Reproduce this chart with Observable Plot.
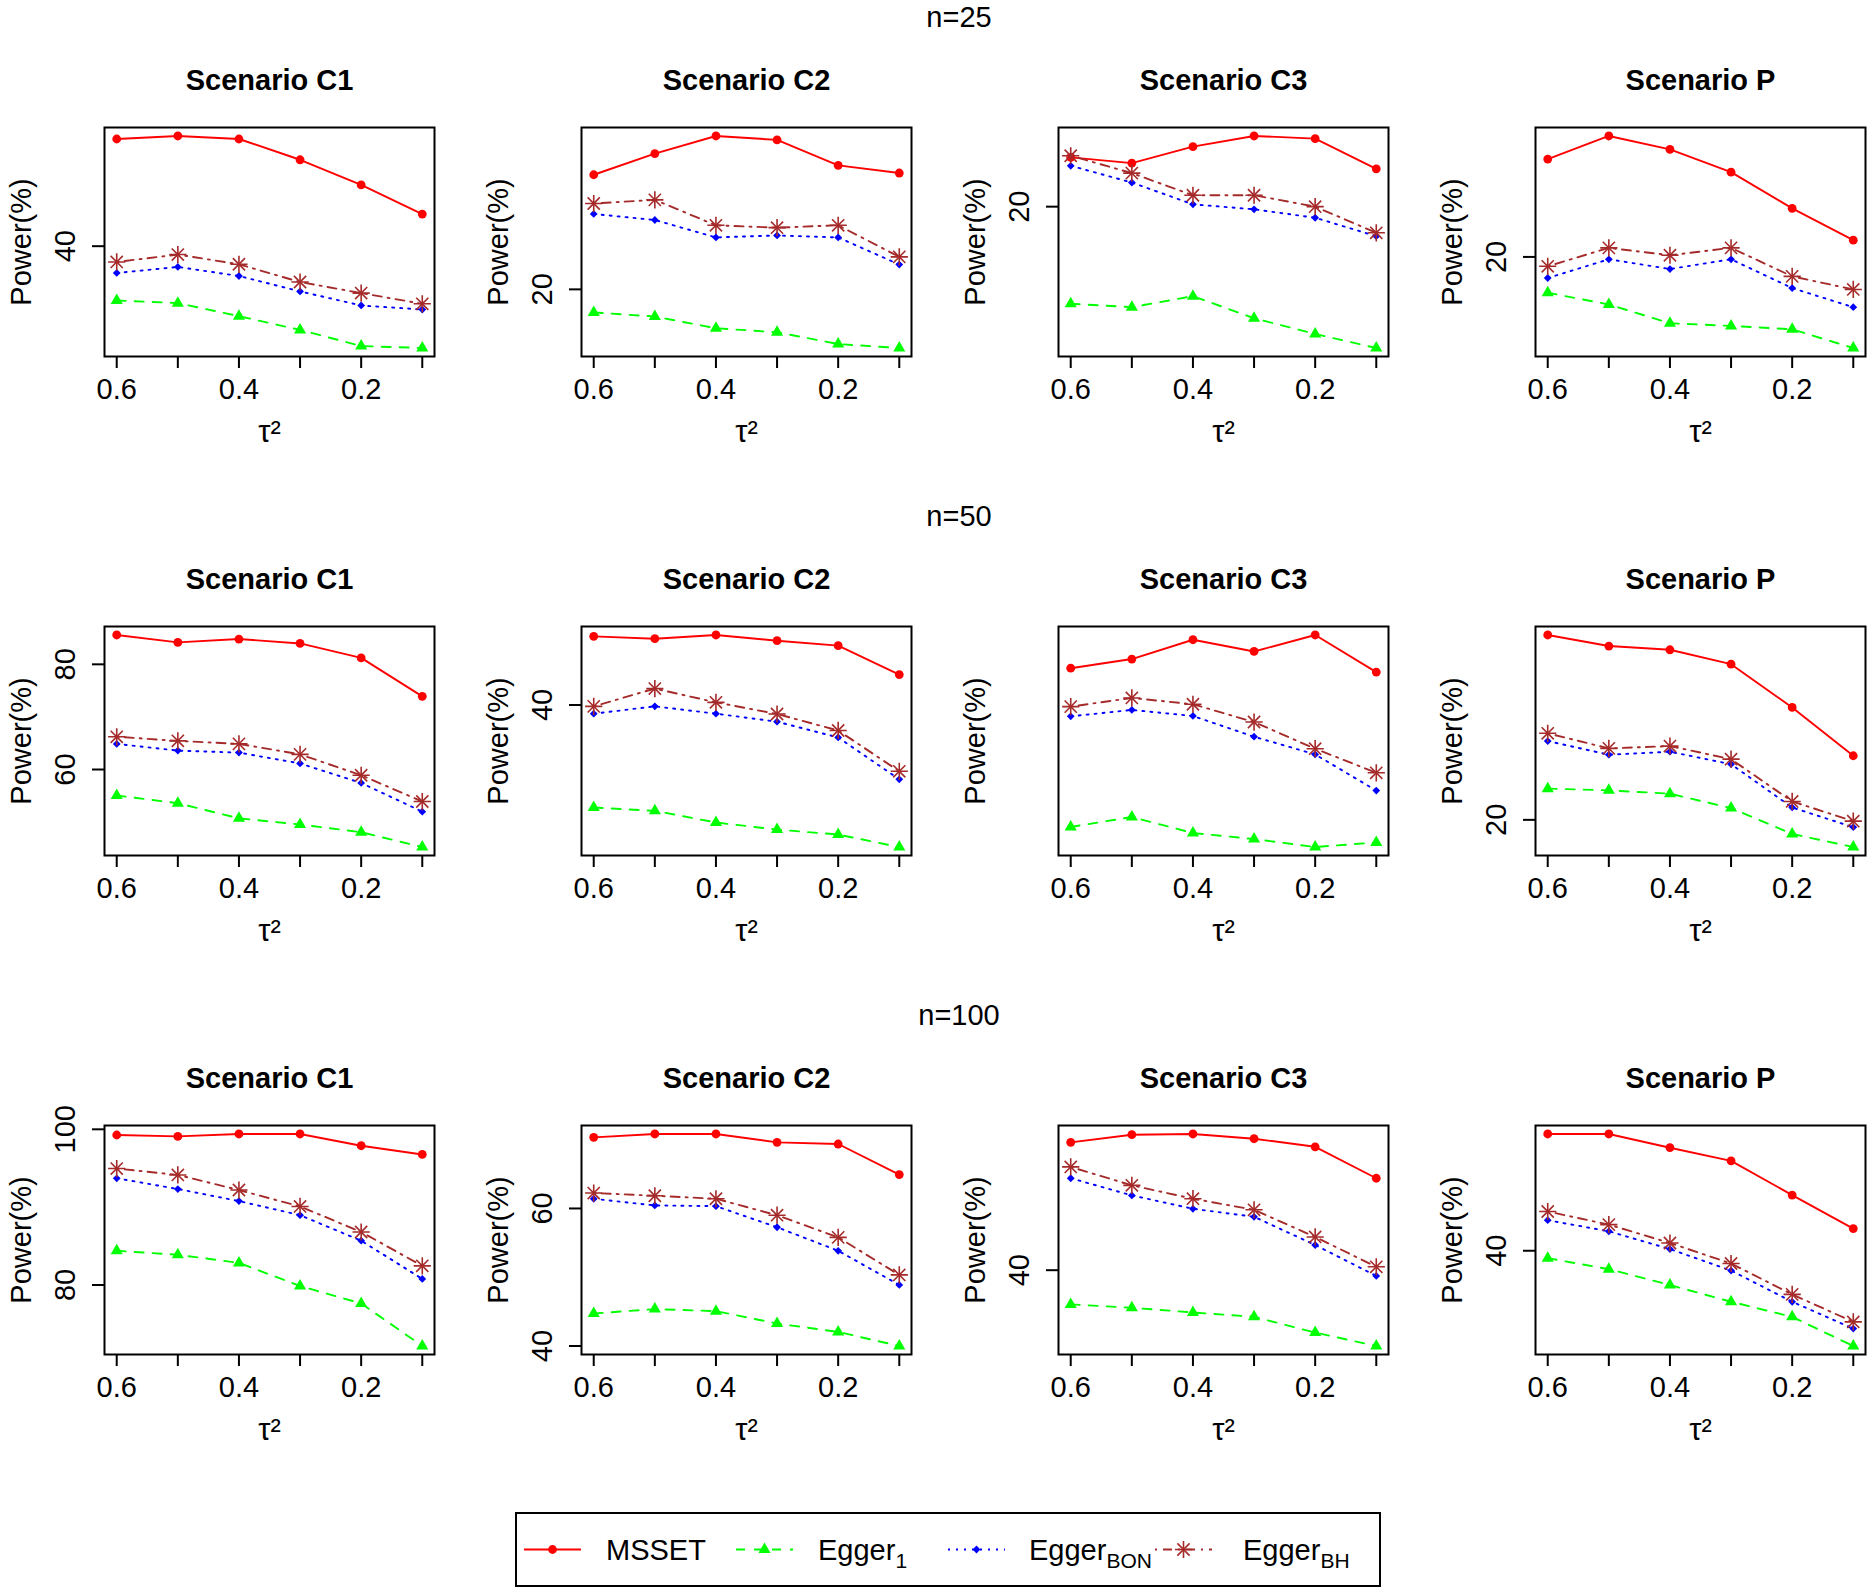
<!DOCTYPE html>
<html><head><meta charset="utf-8">
<script src="https://cdn.jsdelivr.net/npm/d3@7"></script>
<script src="https://cdn.jsdelivr.net/npm/@observablehq/plot@0.6"></script>
<style>
body{margin:0;background:#fff;}
#root{position:relative;width:1872px;height:1592px;background:#fff;font-family:"Liberation Sans",Arial,Helvetica,sans-serif;overflow:hidden;}
.panel{position:absolute;}
.nlab{position:absolute;left:959px;transform:translate(-50%,-50%);font-size:29px;line-height:1;white-space:nowrap;}
</style></head><body><div id="root"></div>
<script>
// ---- data ----
const tau2 = [0.6, 0.5, 0.4, 0.3, 0.2, 0.1];
const xLabelTicks = [0.6, 0.4, 0.2];
const yTickValues = [0, 20, 40, 60, 80, 100];
const sampleSizes = ["n=25", "n=50", "n=100"];
const scenarios = ["Scenario C1", "Scenario C2", "Scenario C3", "Scenario P"];
const methods = ["MSSET", "Egger1", "EggerBON", "EggerBH"];

// rows: scenarios C1, C2, C3, P ; columns: tau2 = 0.6 ... 0.1
const msset_n25 = [
  [56.0, 56.45, 56.0, 52.9, 49.15, 44.8],
  [33.15, 35.58, 37.6, 37.15, 34.23, 33.35],
  [26.13, 25.42, 27.46, 28.79, 28.46, 24.71],
  [33.27, 36.41, 34.59, 31.5, 26.59, 22.27]
];
const egger1_n25 = [
  [31.9, 31.5, 29.55, 27.5, 25.1, 24.8],
  [17.35, 16.88, 15.54, 15.08, 13.73, 13.27],
  [7.92, 7.5, 8.87, 6.12, 4.17, 2.42],
  [15.14, 13.55, 11.0, 10.64, 10.18, 7.64]
];
const bon_n25 = [
  [36.0, 36.9, 35.55, 33.25, 31.15, 30.55],
  [28.65, 27.96, 25.96, 26.19, 25.96, 22.85],
  [25.08, 23.0, 20.29, 19.67, 18.62, 16.33],
  [17.14, 19.68, 18.36, 19.68, 15.77, 13.18]
];
const bh_n25 = [
  [37.65, 38.75, 37.3, 34.65, 33.0, 31.4],
  [29.85, 30.27, 27.35, 27.08, 27.35, 23.73],
  [26.33, 24.17, 21.42, 21.42, 20.0, 16.75],
  [18.73, 21.23, 20.23, 21.23, 17.36, 15.59]
];

const msset_n50 = [
  [85.58, 84.17, 84.81, 83.97, 81.22, 73.91],
  [48.54, 48.25, 48.71, 48.0, 47.38, 43.79],
  [36.10, 36.87, 38.5, 37.51, 38.9, 35.77],
  [38.37, 37.27, 36.9, 35.47, 31.17, 26.37]
];
const egger1_n50 = [
  [55.06, 53.59, 50.71, 49.55, 48.08, 45.26],
  [27.25, 26.83, 25.38, 24.5, 23.88, 22.33],
  [22.71, 23.55, 22.2, 21.69, 21.02, 21.41],
  [23.1, 22.93, 22.6, 21.17, 18.6, 17.3]
];
const bon_n50 = [
  [64.87, 63.59, 63.21, 61.15, 57.44, 51.99],
  [38.92, 39.83, 38.92, 37.92, 35.96, 30.75],
  [32.04, 32.58, 32.07, 30.32, 28.83, 25.78],
  [27.83, 26.47, 26.77, 25.53, 21.23, 19.27]
];
const bh_n50 = [
  [66.22, 65.45, 64.87, 62.88, 58.91, 53.91],
  [39.83, 42.04, 40.33, 38.88, 36.83, 31.75],
  [32.86, 33.59, 33.06, 31.56, 29.31, 27.28],
  [28.6, 27.1, 27.33, 26.03, 21.83, 19.87]
];

const msset_n100 = [
  [99.27, 99.09, 99.4, 99.4, 97.89, 96.77],
  [70.34, 70.83, 70.83, 69.61, 69.37, 64.93],
  [55.88, 56.83, 56.92, 56.33, 55.33, 51.42],
  [56.57, 56.57, 54.62, 52.76, 47.9, 43.14]
];
const egger1_n100 = [
  [84.4, 83.88, 82.84, 79.87, 77.63, 72.16],
  [44.73, 45.37, 45.07, 43.27, 42.05, 40.0],
  [35.75, 35.33, 34.75, 34.21, 32.25, 30.58],
  [38.95, 37.38, 35.14, 32.76, 30.62, 26.48]
];
const bon_n100 = [
  [93.71, 92.33, 90.78, 88.97, 85.69, 80.78],
  [61.41, 60.44, 60.34, 57.27, 53.85, 48.88],
  [51.42, 49.29, 47.63, 46.63, 43.13, 39.29],
  [44.33, 42.76, 40.24, 37.19, 32.76, 28.95]
];
const bh_n100 = [
  [94.96, 94.14, 92.2, 90.09, 86.81, 82.46],
  [62.24, 61.85, 61.41, 59.02, 55.8, 50.34],
  [52.83, 50.54, 48.88, 47.5, 44.13, 40.42],
  [45.57, 43.71, 41.1, 38.19, 33.81, 29.9]
];

const seriesByMethod = {
  MSSET: [msset_n25, msset_n50, msset_n100],
  Egger1: [egger1_n25, egger1_n50, egger1_n100],
  EggerBON: [bon_n25, bon_n50, bon_n100],
  EggerBH: [bh_n25, bh_n50, bh_n100]
};

// ---- styles ----
const FONT = '"Liberation Sans", Arial, Helvetica, sans-serif';
const styles = {
  MSSET:    {color: "#FF0000", dash: null},
  Egger1:   {color: "#00FF00", dash: "9,9"},
  EggerBON: {color: "#0000FF", dash: "2,6"},
  EggerBH:  {color: "#A52A2A", dash: "2,6,9,6"}
};
const ASTER_R = 5.6;

const root = document.getElementById("root");
const BOX_W = 330, BOX_H = 229;
const ML = 103, MR = 8, MT = 80, MB = 100;

function dotMarks(d, m) {
  const c = styles[m].color;
  if (m === "MSSET") return [Plot.dot(d, {x: "tau", y: "power", r: 4.4, fill: c, stroke: "none", symbol: "circle"})];
  if (m === "Egger1") return [Plot.dot(d, {x: "tau", y: "power", r: 4.5, fill: c, stroke: "none", symbol: "triangle"})];
  if (m === "EggerBON") return [Plot.dot(d, {x: "tau", y: "power", r: 3.1, fill: c, stroke: "none", symbol: "square", rotate: 45})];
  return [
    Plot.dot(d, {x: "tau", y: "power", r: ASTER_R, fill: "none", stroke: c, strokeWidth: 1.6, symbol: "plus"}),
    Plot.dot(d, {x: "tau", y: "power", r: ASTER_R, fill: "none", stroke: c, strokeWidth: 1.6, symbol: "times"})
  ];
}

function makePanel(r, c) {
  const rows = [];
  methods.forEach(m => {
    const vals = seriesByMethod[m][r][c];
    tau2.forEach((t, i) => rows.push({tau: t, power: vals[i], method: m}));
  });
  const ext = d3.extent(rows, d => d.power);
  const pad = (ext[1] - ext[0]) * 0.04;
  const yDomain = [ext[0] - pad, ext[1] + pad];
  const yt = yTickValues.filter(v => v >= yDomain[0] && v <= yDomain[1]);
  const marks = [];
  methods.forEach(m => {
    const d = rows.filter(x => x.method === m);
    const st = styles[m];
    const opts = {x: "tau", y: "power", stroke: st.color, strokeWidth: 1.9};
    if (st.dash) opts.strokeDasharray = st.dash;
    marks.push(Plot.line(d, opts));
  });
  methods.forEach(m => {
    marks.push(...dotMarks(rows.filter(x => x.method === m), m));
  });
  marks.push(Plot.frame({stroke: "black", strokeWidth: 2}));
  marks.push(Plot.axisX({ticks: tau2, tickSize: 12, tickPadding: 10, strokeWidth: 2,
    tickFormat: d => xLabelTicks.includes(d) ? d.toFixed(1) : "", label: null}));
  if (yt.length) marks.push(Plot.axisY({ticks: yt, tickSize: 12, tickPadding: 18, tickRotate: -90, strokeWidth: 2,
    tickFormat: d => String(d), label: null}));
  marks.push(Plot.text(["Power(%)"], {frameAnchor: "left", dx: -83, rotate: -90, fontSize: 29,
    textAnchor: "middle", lineAnchor: "middle"}));
  marks.push(Plot.text([scenarios[c]], {frameAnchor: "top", dy: -47, fontWeight: "bold", fontSize: 29,
    textAnchor: "middle", lineAnchor: "middle"}));
  marks.push(Plot.text(["τ²"], {frameAnchor: "bottom", dy: 76, fontSize: 31,
    textAnchor: "middle", lineAnchor: "middle"}));

  const chart = Plot.plot({
    width: ML + BOX_W + MR, height: MT + BOX_H + MB,
    marginLeft: ML, marginRight: MR, marginTop: MT, marginBottom: MB,
    x: {domain: [0.62, 0.08], axis: null},
    y: {domain: yDomain, axis: null},
    style: {fontFamily: FONT, fontSize: "29px", background: "transparent", color: "black", overflow: "visible"},
    marks
  });
  const boxLeft = 103.5 + 477.1 * c;
  const boxTop = 127.3 + 499 * r;
  chart.classList.add("panel");
  chart.style.left = (boxLeft - ML) + "px";
  chart.style.top = (boxTop - MT) + "px";
  chart.style.position = "absolute";
  root.appendChild(chart);
}

for (let r = 0; r < 3; r++) {
  const lab = document.createElement("div");
  lab.className = "nlab";
  lab.textContent = sampleSizes[r];
  lab.style.top = (17 + 499 * r) + "px";
  root.appendChild(lab);
  for (let c = 0; c < 4; c++) makePanel(r, c);
}

// ---- legend ----
const legendItems = [
  {m: "MSSET", base: "MSSET", sub: "", x0: 9, tx: 91},
  {m: "Egger1", base: "Egger", sub: "1", x0: 221, tx: 303},
  {m: "EggerBON", base: "Egger", sub: "BON", x0: 433, tx: 514},
  {m: "EggerBH", base: "Egger", sub: "BH", x0: 640, tx: 728}
];
const lg = d3.select(root).append("svg")
  .style("position", "absolute").style("left", "515px").style("top", "1512px")
  .attr("width", 866).attr("height", 75)
  .style("font-family", FONT);
lg.append("rect").attr("x", 1).attr("y", 1).attr("width", 864).attr("height", 73)
  .attr("fill", "white").attr("stroke", "black").attr("stroke-width", 2);
const cy = 37.5;
legendItems.forEach(it => {
  const st = styles[it.m];
  const ln = lg.append("line").attr("x1", it.x0).attr("x2", it.x0 + 57).attr("y1", cy).attr("y2", cy)
    .attr("stroke", st.color).attr("stroke-width", 1.9);
  if (st.dash) ln.attr("stroke-dasharray", st.dash);
  const mx = it.x0 + 28.5;
  const g = lg.append("g").attr("transform", `translate(${mx},${cy})`);
  if (it.m === "MSSET") g.append("path").attr("d", d3.symbol(d3.symbolCircle, Math.PI * 4.4 * 4.4)()).attr("fill", st.color);
  else if (it.m === "Egger1") g.append("path").attr("d", d3.symbol(d3.symbolTriangle, Math.PI * 4.5 * 4.5)()).attr("fill", st.color);
  else if (it.m === "EggerBON") g.append("path").attr("d", d3.symbol(d3.symbolSquare, Math.PI * 3.1 * 3.1)()).attr("transform", "rotate(45)").attr("fill", st.color);
  else {
    g.append("path").attr("d", d3.symbol(d3.symbolPlus, Math.PI * ASTER_R * ASTER_R)()).attr("fill", "none").attr("stroke", st.color).attr("stroke-width", 1.6);
    g.append("path").attr("d", d3.symbol(d3.symbolTimes, Math.PI * ASTER_R * ASTER_R)()).attr("fill", "none").attr("stroke", st.color).attr("stroke-width", 1.6);
  }
  const t = lg.append("text").attr("x", it.tx).attr("y", cy + 10).attr("font-size", 29).attr("fill", "black");
  t.append("tspan").text(it.base);
  if (it.sub) t.append("tspan").attr("dy", 8).attr("font-size", 21).text(it.sub);
});
</script></body></html>
